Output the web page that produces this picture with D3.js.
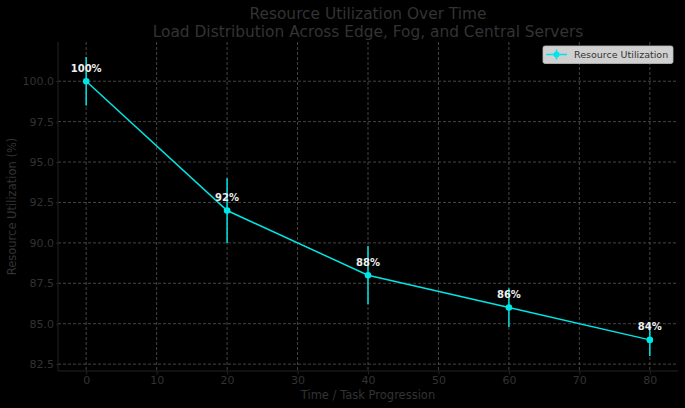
<!DOCTYPE html>
<html><head><meta charset="utf-8">
<script src="https://cdn.jsdelivr.net/npm/d3@7"></script>
<style>
html,body{margin:0;padding:0;background:#000;}
svg{display:block;font-family:"DejaVu Sans",sans-serif;}
</style></head>
<body><svg id="c" width="685" height="408"></svg>
<script>
const timePoints = [0, 20, 40, 60, 80];
const utilization = [100, 92, 88, 86, 84];
const errors = [1.5, 2.0, 1.8, 1.2, 1.0];
const pointLabels = ["100%", "92%", "88%", "86%", "84%"];
const xTicks = [0, 10, 20, 30, 40, 50, 60, 70, 80];
const yTicks = [82.5, 85.0, 87.5, 90.0, 92.5, 95.0, 97.5, 100.0];
const titleLines = ["Resource Utilization Over Time", "Load Distribution Across Edge, Fog, and Central Servers"];
const seriesName = "Resource Utilization";

const W = 685, H = 408;
const m = {l: 58, r: 7, t: 42, b: 37};
const svg = d3.select("#c");
svg.append("rect").attr("width", W).attr("height", H).attr("fill", "#000");

const x = d3.scaleLinear().domain([-4, 84]).range([m.l, W - m.r]);
const y = d3.scaleLinear().domain([82.075, 102.425]).range([H - m.b, m.t]);

const textCol = "#333";
const gridCol = "#555";

// grid
const g = svg.append("g");
g.selectAll(".gx").data(xTicks).join("line")
  .attr("x1", d => x(d)).attr("x2", d => x(d)).attr("y1", m.t).attr("y2", H - m.b)
  .attr("stroke", gridCol).attr("stroke-width", 0.8).attr("stroke-dasharray", "3,2");
g.selectAll(".gy").data(yTicks).join("line")
  .attr("y1", d => y(d)).attr("y2", d => y(d)).attr("x1", m.l).attr("x2", W - m.r)
  .attr("stroke", gridCol).attr("stroke-width", 0.8).attr("stroke-dasharray", "3,2");

// axes
const xAxis = d3.axisBottom(x).tickValues(xTicks).tickFormat(d3.format("d")).tickSize(3.5).tickPadding(2);
const yAxis = d3.axisLeft(y).tickValues(yTicks).tickFormat(d3.format(".1f")).tickSize(2).tickPadding(2);
const gx = svg.append("g").attr("transform", `translate(0,${H - m.b})`).call(xAxis);
const gy = svg.append("g").attr("transform", `translate(${m.l},0)`).call(yAxis);
[gx, gy].forEach(a => {
  a.select(".domain").attr("stroke", "#222").attr("stroke-width", 1);
  a.selectAll(".tick line").attr("stroke", "#222");
  a.selectAll(".tick text").attr("fill", textCol).attr("font-size", 11).attr("font-family", "DejaVu Sans");
});
gx.select(".domain").attr("d", `M${m.l},0H${W - m.r}`);
gy.select(".domain").attr("d", `M0,${m.t}V${H - m.b}`);

// axis labels
svg.append("text").attr("x", (m.l + W - m.r) / 2).attr("y", 399).attr("text-anchor", "middle")
  .attr("fill", textCol).attr("font-size", 11.5).text("Time / Task Progression");
svg.append("text").attr("transform", `translate(16,${(m.t + H - m.b) / 2}) rotate(-90)`).attr("text-anchor", "middle")
  .attr("fill", textCol).attr("font-size", 11.5).text("Resource Utilization (%)");

// title
svg.selectAll(".title").data(titleLines).join("text")
  .attr("x", (m.l + W - m.r) / 2).attr("y", (d, i) => 19 + i * 17.5).attr("text-anchor", "middle")
  .attr("fill", textCol).attr("font-size", 15.4).text(d => d);

// data
const data = timePoints.map((t, i) => ({t, v: utilization[i], e: errors[i], lab: pointLabels[i]}));
const cyan = "#00e5e5";
svg.append("g").selectAll("line").data(data).join("line")
  .attr("x1", d => x(d.t)).attr("x2", d => x(d.t))
  .attr("y1", d => y(d.v - d.e)).attr("y2", d => y(d.v + d.e))
  .attr("stroke", cyan).attr("stroke-width", 1.5);
svg.append("path").datum(data)
  .attr("d", d3.line().x(d => x(d.t)).y(d => y(d.v)))
  .attr("fill", "none").attr("stroke", cyan).attr("stroke-width", 1.5);
svg.append("g").selectAll("circle").data(data).join("circle")
  .attr("cx", d => x(d.t)).attr("cy", d => y(d.v)).attr("r", 3.3).attr("fill", cyan);
svg.append("g").selectAll("text").data(data).join("text")
  .attr("x", d => x(d.t)).attr("y", d => y(d.v) - 9.5).attr("text-anchor", "middle")
  .attr("fill", "#eee").attr("font-weight", "bold").attr("font-size", 10).text(d => d.lab);

// legend
const lg = svg.append("g").attr("transform", "translate(543,46)");
lg.append("rect").attr("width", 130).attr("height", 17.5).attr("rx", 2)
  .attr("fill", "#d0d0d0").attr("stroke", "#bbb").attr("stroke-width", 0.8);
lg.append("line").attr("x1", 3).attr("x2", 24).attr("y1", 8.5).attr("y2", 8.5).attr("stroke", cyan).attr("stroke-width", 1.5);
lg.append("line").attr("x1", 13.5).attr("x2", 13.5).attr("y1", 3.5).attr("y2", 13.5).attr("stroke", cyan).attr("stroke-width", 1.5);
lg.append("circle").attr("cx", 13.5).attr("cy", 8.5).attr("r", 3).attr("fill", cyan);
lg.append("text").attr("x", 31).attr("y", 12.3).attr("fill", "#333").attr("font-size", 9.5).text(seriesName);
</script></body></html>
